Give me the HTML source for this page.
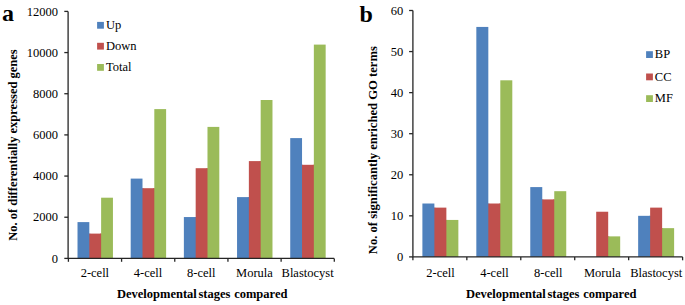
<!DOCTYPE html>
<html><head><meta charset="utf-8"><style>
html,body{margin:0;padding:0;background:#fff;}
svg{display:block;}
.t{font-family:"Liberation Serif",serif;font-size:12.5px;fill:#000;}
.tb{font-family:"Liberation Serif",serif;font-size:12.5px;font-weight:bold;fill:#000;}
.lab{font-family:"Liberation Serif",serif;font-size:24px;font-weight:bold;fill:#000;}
</style></head><body>
<svg width="685" height="305" viewBox="0 0 685 305">
<rect width="685" height="305" fill="#fff"/>
<rect x="77.51" y="222.10" width="11.81" height="36.30" fill="#4F81BD"/>
<rect x="88.32" y="233.60" width="2" height="24.80" fill="#4F81BD"/>
<rect x="89.32" y="233.60" width="11.81" height="24.80" fill="#C0504D"/>
<rect x="100.13" y="233.60" width="2" height="24.80" fill="#C0504D"/>
<rect x="101.13" y="197.70" width="11.81" height="60.70" fill="#9BBB59"/>
<rect x="130.69" y="178.60" width="11.81" height="79.80" fill="#4F81BD"/>
<rect x="141.50" y="188.20" width="2" height="70.20" fill="#4F81BD"/>
<rect x="142.50" y="188.20" width="11.81" height="70.20" fill="#C0504D"/>
<rect x="153.31" y="188.20" width="2" height="70.20" fill="#C0504D"/>
<rect x="154.31" y="109.10" width="11.81" height="149.30" fill="#9BBB59"/>
<rect x="183.87" y="217.05" width="11.81" height="41.35" fill="#4F81BD"/>
<rect x="194.68" y="217.05" width="2" height="41.35" fill="#4F81BD"/>
<rect x="195.68" y="168.20" width="11.81" height="90.20" fill="#C0504D"/>
<rect x="206.49" y="168.20" width="2" height="90.20" fill="#C0504D"/>
<rect x="207.49" y="126.90" width="11.81" height="131.50" fill="#9BBB59"/>
<rect x="237.05" y="197.10" width="11.81" height="61.30" fill="#4F81BD"/>
<rect x="247.86" y="197.10" width="2" height="61.30" fill="#4F81BD"/>
<rect x="248.86" y="161.10" width="11.81" height="97.30" fill="#C0504D"/>
<rect x="259.67" y="161.10" width="2" height="97.30" fill="#C0504D"/>
<rect x="260.67" y="100.00" width="11.81" height="158.40" fill="#9BBB59"/>
<rect x="290.23" y="138.10" width="11.81" height="120.30" fill="#4F81BD"/>
<rect x="301.04" y="164.80" width="2" height="93.60" fill="#4F81BD"/>
<rect x="302.04" y="164.80" width="11.81" height="93.60" fill="#C0504D"/>
<rect x="312.85" y="164.80" width="2" height="93.60" fill="#C0504D"/>
<rect x="313.85" y="44.60" width="11.81" height="213.80" fill="#9BBB59"/>
<path d="M68.1,11.4 V258.4 H334.2" fill="none" stroke="#262626" stroke-width="1.3"/>
<path d="M64.30,258.40 H68.1" stroke="#262626" stroke-width="1.3"/>
<text x="58" y="262.50" text-anchor="end" class="t">0</text>
<path d="M64.30,217.23 H68.1" stroke="#262626" stroke-width="1.3"/>
<text x="58" y="221.33" text-anchor="end" class="t">2000</text>
<path d="M64.30,176.07 H68.1" stroke="#262626" stroke-width="1.3"/>
<text x="58" y="180.17" text-anchor="end" class="t">4000</text>
<path d="M64.30,134.90 H68.1" stroke="#262626" stroke-width="1.3"/>
<text x="58" y="139.00" text-anchor="end" class="t">6000</text>
<path d="M64.30,93.73 H68.1" stroke="#262626" stroke-width="1.3"/>
<text x="58" y="97.83" text-anchor="end" class="t">8000</text>
<path d="M64.30,52.57 H68.1" stroke="#262626" stroke-width="1.3"/>
<text x="58" y="56.67" text-anchor="end" class="t">10000</text>
<path d="M64.30,11.40 H68.1" stroke="#262626" stroke-width="1.3"/>
<text x="58" y="15.50" text-anchor="end" class="t">12000</text>
<path d="M68.40,258.4 V261.80" stroke="#262626" stroke-width="1.3"/>
<path d="M121.58,258.4 V261.80" stroke="#262626" stroke-width="1.3"/>
<path d="M174.76,258.4 V261.80" stroke="#262626" stroke-width="1.3"/>
<path d="M227.94,258.4 V261.80" stroke="#262626" stroke-width="1.3"/>
<path d="M281.12,258.4 V261.80" stroke="#262626" stroke-width="1.3"/>
<path d="M334.30,258.4 V261.80" stroke="#262626" stroke-width="1.3"/>
<text x="94.89" y="276.8" text-anchor="middle" class="t">2-cell</text>
<text x="148.07" y="276.8" text-anchor="middle" class="t">4-cell</text>
<text x="201.25" y="276.8" text-anchor="middle" class="t">8-cell</text>
<text x="254.43" y="276.8" text-anchor="middle" class="t">Morula</text>
<text x="307.61" y="276.8" text-anchor="middle" class="t">Blastocyst</text>
<text x="117" y="298" class="tb">Developmental<tspan dx="-1.5"> stages</tspan><tspan dx="0.6"> compared</tspan></text>
<text transform="translate(17.1,145.1) rotate(-90)" text-anchor="middle" class="tb" style="font-size:12.5px">No. of differentially expressed genes</text>
<rect x="422.39" y="203.51" width="11.99" height="53.39" fill="#4F81BD"/>
<rect x="433.38" y="207.62" width="2" height="49.28" fill="#4F81BD"/>
<rect x="434.38" y="207.62" width="11.99" height="49.28" fill="#C0504D"/>
<rect x="445.37" y="219.94" width="2" height="36.96" fill="#C0504D"/>
<rect x="446.37" y="219.94" width="11.99" height="36.96" fill="#9BBB59"/>
<rect x="476.33" y="26.93" width="11.99" height="229.97" fill="#4F81BD"/>
<rect x="487.32" y="203.51" width="2" height="53.39" fill="#4F81BD"/>
<rect x="488.32" y="203.51" width="11.99" height="53.39" fill="#C0504D"/>
<rect x="499.31" y="203.51" width="2" height="53.39" fill="#C0504D"/>
<rect x="500.31" y="80.31" width="11.99" height="176.59" fill="#9BBB59"/>
<rect x="530.27" y="187.09" width="11.99" height="69.81" fill="#4F81BD"/>
<rect x="541.26" y="199.41" width="2" height="57.49" fill="#4F81BD"/>
<rect x="542.26" y="199.41" width="11.99" height="57.49" fill="#C0504D"/>
<rect x="553.25" y="199.41" width="2" height="57.49" fill="#C0504D"/>
<rect x="554.25" y="191.19" width="11.99" height="65.71" fill="#9BBB59"/>
<rect x="596.20" y="211.73" width="11.99" height="45.17" fill="#C0504D"/>
<rect x="607.19" y="236.37" width="2" height="20.53" fill="#C0504D"/>
<rect x="608.19" y="236.37" width="11.99" height="20.53" fill="#9BBB59"/>
<rect x="638.15" y="215.83" width="11.99" height="41.07" fill="#4F81BD"/>
<rect x="649.14" y="215.83" width="2" height="41.07" fill="#4F81BD"/>
<rect x="650.14" y="207.62" width="11.99" height="49.28" fill="#C0504D"/>
<rect x="661.13" y="228.15" width="2" height="28.75" fill="#C0504D"/>
<rect x="662.13" y="228.15" width="11.99" height="28.75" fill="#9BBB59"/>
<path d="M412.9,10.5 V256.9 H682.6" fill="none" stroke="#262626" stroke-width="1.3"/>
<path d="M409.10,256.90 H412.9" stroke="#262626" stroke-width="1.3"/>
<text x="403.3" y="261.00" text-anchor="end" class="t">0</text>
<path d="M409.10,215.83 H412.9" stroke="#262626" stroke-width="1.3"/>
<text x="403.3" y="219.93" text-anchor="end" class="t">10</text>
<path d="M409.10,174.77 H412.9" stroke="#262626" stroke-width="1.3"/>
<text x="403.3" y="178.87" text-anchor="end" class="t">20</text>
<path d="M409.10,133.70 H412.9" stroke="#262626" stroke-width="1.3"/>
<text x="403.3" y="137.80" text-anchor="end" class="t">30</text>
<path d="M409.10,92.63 H412.9" stroke="#262626" stroke-width="1.3"/>
<text x="403.3" y="96.73" text-anchor="end" class="t">40</text>
<path d="M409.10,51.57 H412.9" stroke="#262626" stroke-width="1.3"/>
<text x="403.3" y="55.67" text-anchor="end" class="t">50</text>
<path d="M409.10,10.50 H412.9" stroke="#262626" stroke-width="1.3"/>
<text x="403.3" y="14.60" text-anchor="end" class="t">60</text>
<path d="M412.90,256.9 V260.30" stroke="#262626" stroke-width="1.3"/>
<path d="M466.84,256.9 V260.30" stroke="#262626" stroke-width="1.3"/>
<path d="M520.78,256.9 V260.30" stroke="#262626" stroke-width="1.3"/>
<path d="M574.72,256.9 V260.30" stroke="#262626" stroke-width="1.3"/>
<path d="M628.66,256.9 V260.30" stroke="#262626" stroke-width="1.3"/>
<path d="M682.60,256.9 V260.30" stroke="#262626" stroke-width="1.3"/>
<text x="440.47" y="276.8" text-anchor="middle" class="t">2-cell</text>
<text x="494.41" y="276.8" text-anchor="middle" class="t">4-cell</text>
<text x="548.35" y="276.8" text-anchor="middle" class="t">8-cell</text>
<text x="602.29" y="276.8" text-anchor="middle" class="t">Morula</text>
<text x="656.23" y="276.8" text-anchor="middle" class="t">Blastocyst</text>
<text x="466" y="298" class="tb">Developmental<tspan dx="-1.5"> stages</tspan><tspan dx="0.6"> compared</tspan></text>
<text transform="translate(377,150.2) rotate(-90)" text-anchor="middle" class="tb" style="font-size:12.62px">No. of significantly enriched GO terms</text>
<rect x="97.1" y="21.90" width="6.8" height="6.8" fill="#4F81BD"/>
<text x="106" y="28.90" class="t">Up</text>
<rect x="97.1" y="42.80" width="6.8" height="6.8" fill="#C0504D"/>
<text x="106" y="49.80" class="t">Down</text>
<rect x="97.1" y="64.00" width="6.8" height="6.8" fill="#9BBB59"/>
<text x="106" y="71.00" class="t">Total</text>
<rect x="646.1" y="51.20" width="6.8" height="6.8" fill="#4F81BD"/>
<text x="654.8" y="58.20" class="t">BP</text>
<rect x="646.1" y="73.50" width="6.8" height="6.8" fill="#C0504D"/>
<text x="654.8" y="80.50" class="t">CC</text>
<rect x="646.1" y="95.20" width="6.8" height="6.8" fill="#9BBB59"/>
<text x="654.8" y="102.20" class="t">MF</text>
<text x="2" y="21.2" class="lab">a</text>
<text x="359.5" y="22.4" class="lab">b</text>
</svg>
</body></html>
